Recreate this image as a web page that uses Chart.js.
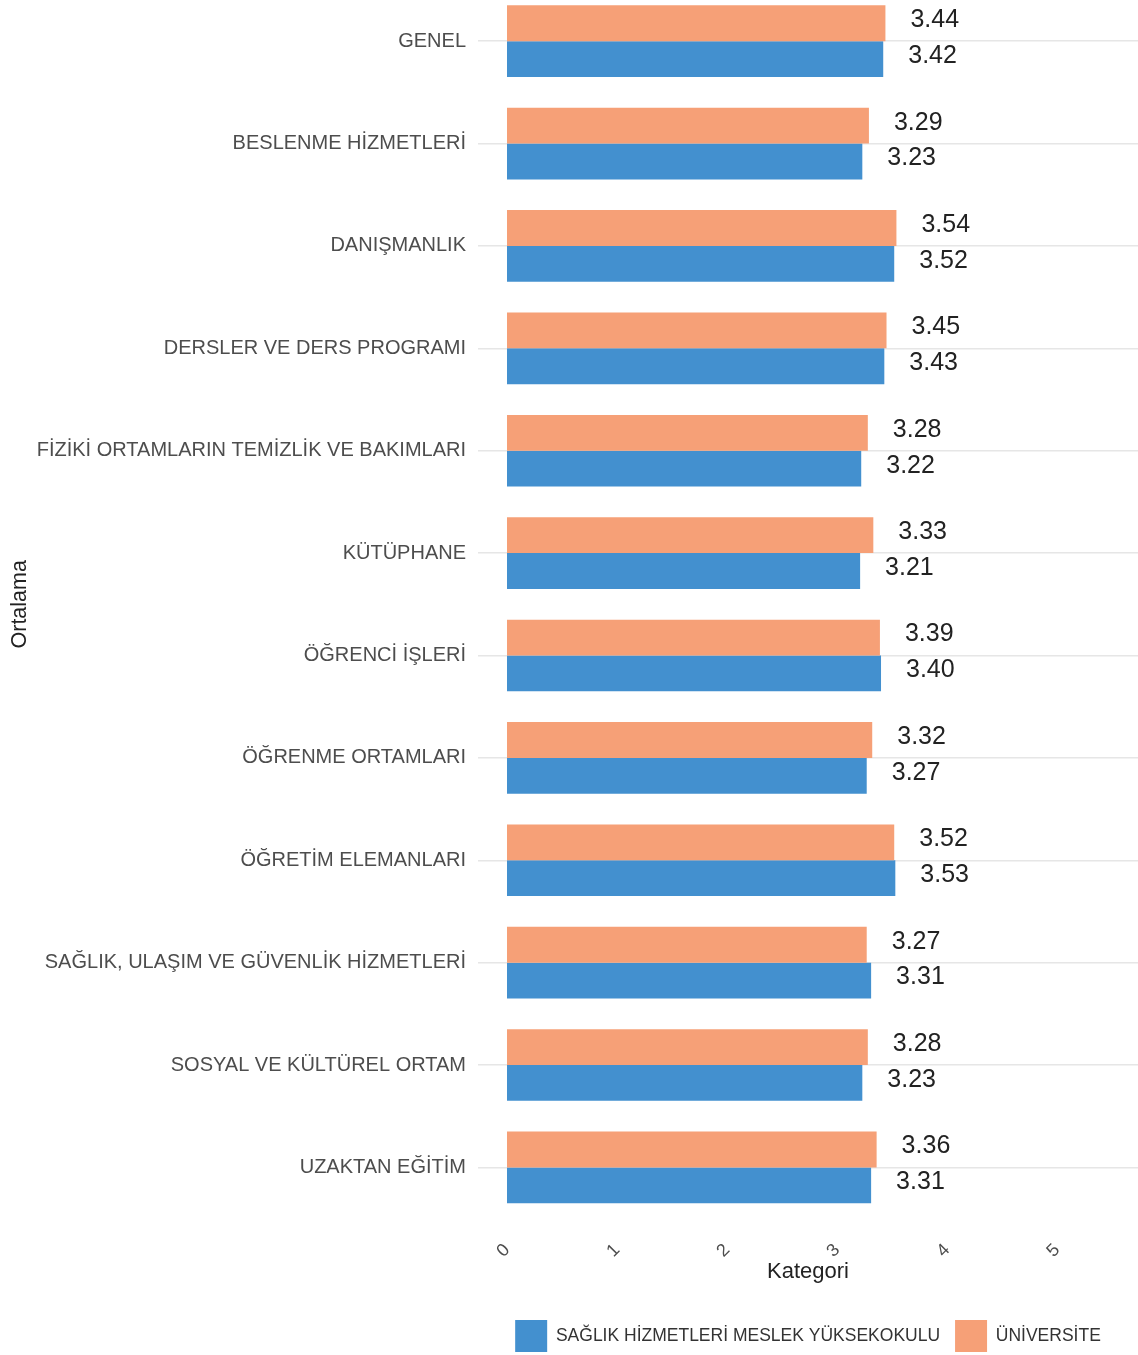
<!DOCTYPE html>
<html>
<head>
<meta charset="utf-8">
<script src="https://cdn.jsdelivr.net/npm/chart.js@4.4.1/dist/chart.umd.min.js"></script>
<style>
  html, body { margin: 0; padding: 0; background: #ffffff; overflow: hidden; width: 1138px; height: 1355px; }
  #wrap { position: absolute; left: 0; top: -10px; width: 1138px; height: 1365px; }
</style>
</head>
<body>
<div id="wrap"><canvas id="c" width="1138" height="1365"></canvas></div>
<script>
const categories = [
  'GENEL',
  'BESLENME HİZMETLERİ',
  'DANIŞMANLIK',
  'DERSLER VE DERS PROGRAMI',
  'FİZİKİ ORTAMLARIN TEMİZLİK VE BAKIMLARI',
  'KÜTÜPHANE',
  'ÖĞRENCİ İŞLERİ',
  'ÖĞRENME ORTAMLARI',
  'ÖĞRETİM ELEMANLARI',
  'SAĞLIK, ULAŞIM VE GÜVENLİK HİZMETLERİ',
  'SOSYAL VE KÜLTÜREL ORTAM',
  'UZAKTAN EĞİTİM'
];
const universiteValues = [3.44, 3.29, 3.54, 3.45, 3.28, 3.33, 3.39, 3.32, 3.52, 3.27, 3.28, 3.36];
const shmyoValues      = [3.42, 3.23, 3.52, 3.43, 3.22, 3.21, 3.40, 3.27, 3.53, 3.31, 3.23, 3.31];
const xTickValues = [0, 1, 2, 3, 4, 5];
const seriesNames = ['ÜNİVERSİTE', 'SAĞLIK HİZMETLERİ MESLEK YÜKSEKOKULU'];

const FONT = "'Liberation Sans', Arial, sans-serif";

const valueLabels = {
  id: 'valueLabels',
  afterDatasetsDraw(chart) {
    const ctx = chart.ctx;
    ctx.save();
    ctx.font = '25px ' + FONT;
    ctx.fillStyle = '#222222';
    ctx.textAlign = 'left';
    ctx.textBaseline = 'middle';
    chart.data.datasets.forEach((ds, di) => {
      const meta = chart.getDatasetMeta(di);
      meta.data.forEach((el, i) => {
        ctx.fillText(ds.data[i].toFixed(2), el.x + 25, el.y - 3);
      });
    });
    ctx.restore();
  }
};

new Chart(document.getElementById('c'), {
  type: 'bar',
  data: {
    labels: categories,
    datasets: [
      {
        label: seriesNames[0],
        data: universiteValues,
        backgroundColor: '#F6A077',
        borderWidth: 0,
        categoryPercentage: 0.7,
        barPercentage: 1.0
      },
      {
        label: seriesNames[1],
        data: shmyoValues,
        backgroundColor: '#4390CF',
        borderWidth: 0,
        categoryPercentage: 0.7,
        barPercentage: 1.0
      }
    ]
  },
  options: {
    indexAxis: 'y',
    responsive: false,
    animation: false,
    devicePixelRatio: 1,
    layout: { padding: { top: 0, bottom: -7, left: 0, right: 0 } },
    plugins: {
      tooltip: { enabled: false },
      legend: {
        position: 'bottom',
        fullSize: false,
        reverse: true,
        labels: {
          boxWidth: 32,
          boxHeight: 32,
          padding: 15,
          color: '#333333',
          font: { family: FONT, size: 17.5 }
        }
      }
    },
    scales: {
      x: {
        type: 'linear',
        min: -0.2636,
        max: 5.736,
        afterBuildTicks(scale) { scale.ticks = xTickValues.map(v => ({ value: v })); },
        afterFit(scale) {
          scale.height = 86.4;
          scale.paddingLeft = 0; scale.paddingRight = 0;
          scale.paddingTop = 0; scale.paddingBottom = 0;
        },
        grid: { display: false, drawTicks: false },
        border: { display: false },
        ticks: {
          minRotation: 45,
          maxRotation: 45,
          padding: 21,
          color: '#4d4d4d',
          font: { family: FONT, size: 18 },
          callback: (v) => String(v)
        },
        title: {
          display: true,
          text: 'Kategori',
          color: '#222222',
          font: { family: FONT, size: 22 },
          padding: { top: 0, bottom: 20 }
        }
      },
      y: {
        type: 'category',
        afterFit(scale) {
          scale.width = 478;
          scale.paddingTop = 0; scale.paddingBottom = 0;
          scale.paddingLeft = 0; scale.paddingRight = 0;
        },
        grid: { display: true, offset: false, drawTicks: false, color: '#e6e6e6', lineWidth: 1.5 },
        border: { display: false },
        ticks: {
          padding: 12,
          color: '#4d4d4d',
          font: { family: FONT, size: 20 }
        },
        title: {
          display: true,
          text: 'Ortalama',
          color: '#222222',
          font: { family: FONT, size: 21.5 },
          padding: { top: 7, bottom: 0 }
        }
      }
    }
  },
  plugins: [valueLabels]
});
</script>
</body>
</html>
